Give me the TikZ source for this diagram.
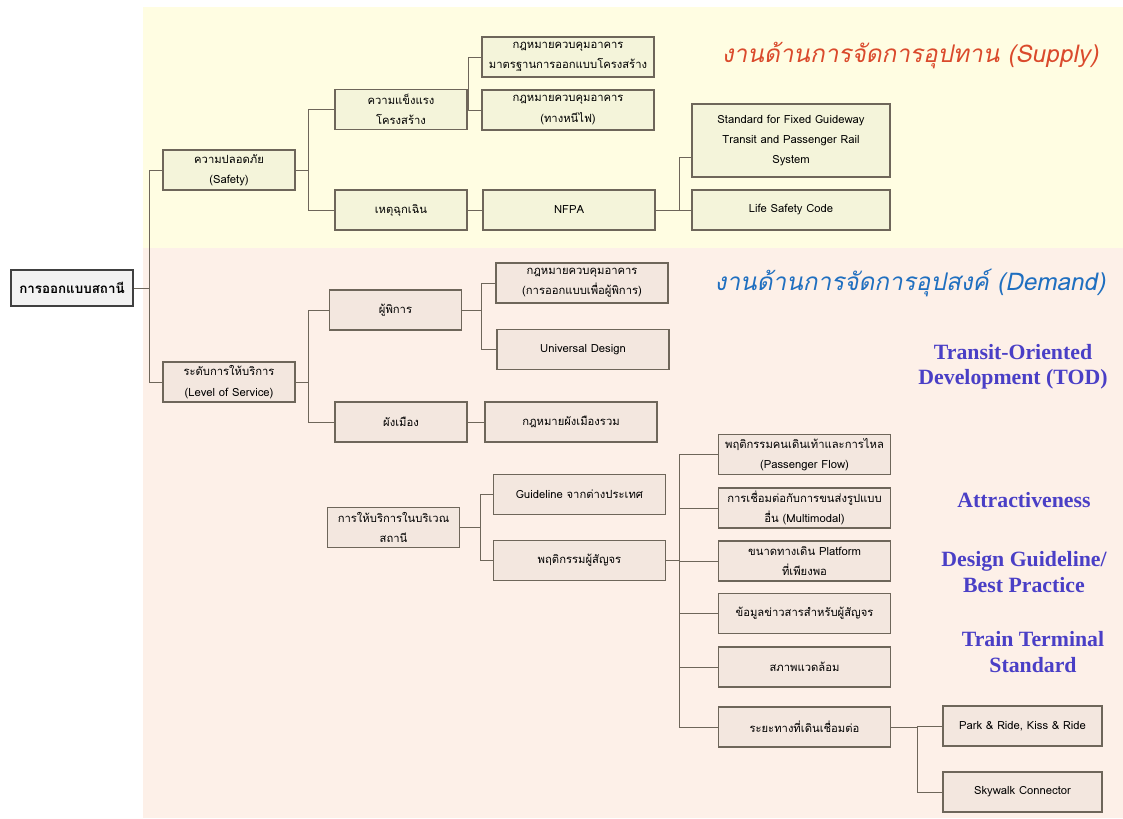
\documentclass[tikz,border=0pt]{standalone}
\usepackage{fontspec}
\setmainfont[Script=Thai]{Loma}
\newfontfamily\thaislant[Script=Thai,FakeSlant=0.2]{Loma}
\newfontfamily\labelserif{Liberation Serif}
\usetikzlibrary{positioning,calc}
\definecolor{supplybg}{HTML}{FFFDE2}
\definecolor{demandbg}{HTML}{FDF0E8}
\definecolor{supplyfill}{HTML}{F4F4DA}
\definecolor{demandfill}{HTML}{F3E7DF}
\definecolor{rootfill}{HTML}{F2F2F2}
\definecolor{boxline}{HTML}{6E665A}
\definecolor{supplyred}{HTML}{DA4A2C}
\definecolor{demandblue}{HTML}{1F6FC0}
\definecolor{todviolet}{HTML}{4A3FC6}
\newcommand{\boxfont}{\fontsize{8}{14.5}\selectfont}
\tikzset{
  rootbox/.style={rectangle, draw=black!75, line width=1.1pt, fill=rootfill, align=center, minimum width=3.05cm, minimum height=0.9cm, font=\bfseries\fontsize{9.5}{12}\selectfont},
  supbox/.style={rectangle, draw=boxline, line width=0.8pt, fill=supplyfill, align=center, inner sep=1pt, minimum height=1cm, font=\boxfont},
  dembox/.style={rectangle, draw=boxline, line width=0.8pt, fill=demandfill, align=center, inner sep=1pt, minimum height=1cm, font=\boxfont},
  narrow/.style={minimum width=3.3cm},
  wide/.style={minimum width=4.3cm},
  link/.style={draw=boxline, line width=0.6pt},
  headline/.style={font=\thaislant\fontsize{17.3}{20}\selectfont},
  tag/.style={font=\labelserif\bfseries\fontsize{15.5}{18}\selectfont, text=todviolet, align=center},
}

\begin{document}
\begin{tikzpicture}[x=0.025cm, y=-0.025cm]
  \useasboundingbox (0,0) rectangle (1123,818);
  \fill[supplybg] (143,7) rectangle (1123,248);
  \fill[demandbg] (143,248) rectangle (1123,818);

  % supply side
  \node[rootbox] (root) at (72,288) {การออกแบบสถานี};
  \node[supbox,narrow] (safety) at (229,170) {ความปลอดภัย\\(Safety)};
  \node[supbox,narrow] (strength) at (401,109.5) {ความแข็งแรง\\โครงสร้าง};
  \node[supbox,narrow] (emerg) at (401,210) {เหตุฉุกเฉิน};
  \node[supbox,wide] (law1) at (568,57) {กฎหมายควบคุมอาคาร\\มาตรฐานการออกแบบโครงสร้าง};
  \node[supbox,wide] (law2) at (568,110) {กฎหมายควบคุมอาคาร\\(ทางหนีไฟ)};
  \node[supbox,wide] (nfpa) at (569,210) {NFPA};
  \node[supbox,minimum width=4.95cm,minimum height=1.825cm] (std) at (791,140.5) {Standard for Fixed Guideway\\Transit and Passenger Rail\\System};
  \node[supbox,minimum width=4.95cm] (life) at (791,210) {Life Safety Code};

  % demand side
  \node[dembox,narrow] (los) at (229,382) {ระดับการให้บริการ\\(Level of Service)};
  \node[dembox,narrow] (disab) at (395.5,310) {ผู้พิการ};
  \node[dembox,narrow] (city) at (401,422) {ผังเมือง};
  \node[dembox,wide] (law3) at (582,283) {กฎหมายควบคุมอาคาร\\(การออกแบบเพื่อผู้พิการ)};
  \node[dembox,wide] (ud) at (583,349.5) {Universal Design};
  \node[dembox,wide] (citylaw) at (571,422) {กฎหมายผังเมืองรวม};
  \node[dembox,narrow] (station) at (393.5,527.5) {การให้บริการในบริเวณ\\สถานี};
  \node[dembox,wide] (guide) at (579.5,494.5) {Guideline จากต่างประเทศ};
  \node[dembox,wide] (ped) at (579.5,560.5) {พฤติกรรมผู้สัญจร};
  \node[dembox,wide] (flow) at (804.5,454.5) {พฤติกรรมคนเดินเท้าและการไหล\\(Passenger Flow)};
  \node[dembox,wide] (multi) at (804.5,508) {การเชื่อมต่อกับการขนส่งรูปแบบ\\อื่น (Multimodal)};
  \node[dembox,wide] (walk) at (804.5,561) {ขนาดทางเดิน Platform\\ที่เพียงพอ};
  \node[dembox,wide] (info) at (804.5,613.5) {ข้อมูลข่าวสารสำหรับผู้สัญจร};
  \node[dembox,wide] (envir) at (804.5,667) {สภาพแวดล้อม};
  \node[dembox,wide] (dist) at (804.5,727) {ระยะทางที่เดินเชื่อมต่อ};
  \node[dembox,minimum width=3.975cm] (park) at (1022.5,726) {Park \& Ride, Kiss \& Ride};
  \node[dembox,minimum width=3.975cm] (sky) at (1022.5,792) {Skywalk Connector};

  % headings
  \node[headline,text=supplyred] (suphead) at (910,56) {งานด้านการจัดการอุปทาน (Supply)};
  \node[headline,text=demandblue] (demhead) at (910,283) {งานด้านการจัดการอุปสงค์ (Demand)};
  \node[tag] (tod) at (1013,367) {Transit-Oriented\\Development (TOD)};
  \node[tag] (attr) at (1024,500) {Attractiveness};
  \node[tag] (dguide) at (1024,572) {Design Guideline/\\Best Practice};
  \node[tag] (terminal) at (1033,652) {Train Terminal\\Standard};

  % connectors
  \draw[link] (root.east) -- ++(16,0) coordinate (c0);
  \draw[link] (c0) |- (safety.west);
  \draw[link] (c0) |- (los.west);
  \draw[link] (safety.east) -- ++(13,0) coordinate (c1);
  \draw[link] (c1) |- (strength.west);
  \draw[link] (c1) |- (emerg.west);
  \draw[link] (strength.east) -- ++(1,0) coordinate (c2);
  \draw[link] (c2) |- (law1.west);
  \draw[link] (c2) |- (law2.west);
  \draw[link] (emerg) -- (nfpa);
  \draw[link] (nfpa.east) -- ++(24,0) coordinate (c3);
  \draw[link] (c3) |- ([yshift=-0.42cm]std.west);
  \draw[link] (c3) |- (life.west);
  \draw[link] (los.east) -- ++(13,0) coordinate (c4);
  \draw[link] (c4) |- (disab.west);
  \draw[link] (c4) |- (city.west);
  \draw[link] (disab.east) -- ++(19,0) coordinate (c5);
  \draw[link] (c5) |- (law3.west);
  \draw[link] (c5) |- (ud.west);
  \draw[link] (city) -- (citylaw);
  \draw[link] (station.east) -- ++(20,0) coordinate (c6);
  \draw[link] (c6) |- (guide.west);
  \draw[link] (c6) |- (ped.west);
  \draw[link] (ped.east) -- ++(13,0) coordinate (c7);
  \foreach \kid in {flow,multi,walk,info,envir,dist}
    \draw[link] (c7) |- (\kid.west);
  \draw[link] (dist.east) -- ++(26,0) coordinate (c8);
  \draw[link] (c8) |- (park.west);
  \draw[link] (c8) |- (sky.west);
\end{tikzpicture}
\end{document}
